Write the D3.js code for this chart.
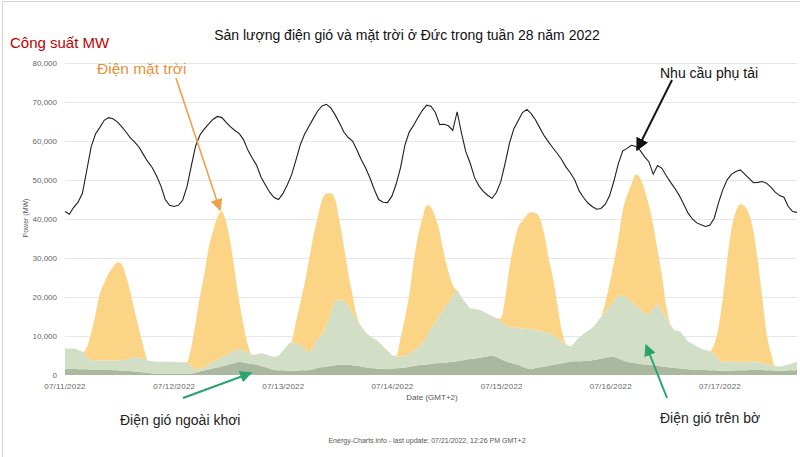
<!DOCTYPE html>
<html><head><meta charset="utf-8">
<script src="https://cdn.jsdelivr.net/npm/d3@7"></script>
<style>
body{margin:0;background:#fff;}
svg{display:block;font-family:"Liberation Sans",Arial,sans-serif;}
</style>
</head><body>
<svg id="chart" width="800" height="457"></svg>
<script>
// ---------- DATA (values in thousand MW, hourly from 07/11/2022 00:00) ----------
const titleText = "Sản lượng điện gió và mặt trời ở Đức trong tuần 28 năm 2022";
const yTickValues = [0, 10000, 20000, 30000, 40000, 50000, 60000, 70000, 80000];
const xTickLabels = ["07/11/2022","07/12/2022","07/13/2022","07/14/2022","07/15/2022","07/16/2022","07/17/2022"];

const loadGW = [
 41.9,41.2,43.0,44.3,46.6,52.5,58.5,61.8,63.5,65.3,66.0,65.7,64.9,63.7,62.3,60.8,59.7,58.4,56.5,54.7,53.2,51.1,48.5,45.0,
 43.5,43.2,43.5,44.8,48.3,53.7,58.8,61.6,63.1,64.4,65.6,66.3,66.0,64.8,63.6,62.7,61.9,60.3,57.6,55.6,53.7,50.7,48.7,46.8,
 45.5,45.0,46.5,48.7,51.3,55.1,59.0,61.8,63.8,65.8,67.7,69.0,69.4,68.5,66.7,64.6,62.3,60.9,60.0,57.7,55.2,53.1,50.5,47.5,
 45.0,44.3,44.2,45.8,48.9,53.1,58.9,62.3,64.0,66.0,67.8,69.2,68.9,67.3,64.2,64.3,63.9,62.7,67.5,62.0,57.2,54.3,50.6,48.5,
 47.1,46.1,45.3,46.8,49.5,54.2,59.4,63.1,65.2,67.3,68.1,67.0,65.4,63.3,61.3,59.7,58.2,56.8,55.2,53.3,51.8,50.0,47.2,45.5,
 44.1,43.2,42.5,42.7,43.8,46.0,49.8,54.2,57.4,58.1,58.9,58.6,57.6,56.0,54.7,51.5,53.7,53.0,51.1,49.4,47.8,46.0,43.8,41.5,
 40.0,39.0,38.5,38.1,38.4,40.2,44.2,47.6,50.1,51.5,52.2,52.6,51.5,50.4,49.3,49.4,49.6,49.2,48.2,46.9,46.0,45.6,43.2,41.9,41.7
];
const windOffshoreGW = [
 1.6,1.6,1.6,1.5,1.5,1.5,1.4,1.4,1.35,1.3,1.3,1.25,1.2,1.1,1.0,0.95,0.9,0.8,0.7,0.55,0.4,0.25,0.25,0.25,
 0.25,0.25,0.25,0.25,0.25,0.35,0.6,0.9,1.2,1.4,1.7,1.9,2.2,2.5,2.8,3.1,3.4,3.2,3.0,2.8,2.6,2.3,2.0,1.6,
 1.3,1.2,1.2,1.1,1.1,1.1,1.2,1.2,1.3,1.5,1.8,2.0,2.2,2.3,2.5,2.7,2.6,2.6,2.5,2.4,2.2,2.0,1.8,1.7,
 1.6,1.6,1.5,1.6,1.7,1.8,1.9,2.1,2.3,2.5,2.6,2.7,2.9,3.0,3.1,3.2,3.3,3.4,3.5,3.7,3.9,4.1,4.2,4.4,
 4.6,4.8,5.0,4.6,4.1,3.6,3.2,2.9,2.6,2.1,1.7,1.5,1.8,2.0,2.2,2.4,2.6,2.8,3.0,3.2,3.4,3.5,3.5,3.6,
 3.7,3.8,4.0,4.2,4.4,4.6,4.6,4.2,3.8,3.4,3.2,3.0,2.8,2.7,2.6,2.5,2.3,2.2,2.1,1.9,1.8,1.7,1.6,1.5,
 1.4,1.4,1.3,1.3,1.2,1.2,1.1,1.1,1.1,1.1,1.2,1.2,1.2,1.3,1.3,1.3,1.3,1.2,1.2,1.1,1.1,1.1,1.2,1.2,1.3
];
const windOnshoreGW = [
 5.2,5.2,5.2,4.9,4.4,3.5,2.4,2.4,2.35,2.4,2.4,2.45,2.6,2.7,3.0,3.35,3.7,3.7,3.4,3.15,3.1,3.15,3.15,3.15,
 3.15,3.15,3.05,3.05,2.95,1.85,0.8,0.7,0.8,1.2,1.7,2.1,2.3,2.6,2.9,3.3,3.1,3.0,2.8,2.4,2.7,3.3,3.3,3.3,
 3.4,3.8,5.0,6.4,7.3,7.1,6.5,5.7,4.4,5.8,7.4,8.5,10.6,13.5,16.5,16.7,16.2,15.2,13.4,11.6,10.3,9.0,8.2,7.6,
 6.9,5.7,4.8,3.6,3.1,2.9,3.1,3.5,4.0,4.5,5.6,7.3,8.9,10.6,12.3,13.9,15.3,16.9,18.1,16.2,14.6,13.0,12.7,12.3,
 11.7,10.9,10.1,10.0,9.9,9.2,9.1,9.3,9.5,9.8,10.1,10.2,9.7,9.3,8.8,8.3,7.7,6.7,5.5,4.6,4.0,4.9,6.1,6.9,
 7.6,8.3,9.4,10.6,11.8,12.9,14.3,16.1,16.7,16.3,15.6,14.9,14.3,13.0,13.1,14.6,15.8,14.3,12.5,10.9,9.6,9.5,8.4,7.1,
 6.6,5.9,5.5,5.1,4.9,4.3,2.9,2.3,2.3,2.3,2.2,2.2,2.2,2.1,2.1,2.0,1.8,1.6,1.4,1.1,1.1,1.3,1.5,1.8,2.1
];
const solarGW = [
 0,0,0,0,0,2.1,7.0,11.8,17.2,19.9,22.3,23.9,25.1,24.6,21.4,17.0,11.8,7.1,3.2,0,0,0,0,0,
 0,0,0,0,0.2,5.1,12.1,18.7,24.0,30.2,33.6,36.6,37.5,34.1,28.0,19.9,12.3,6.4,1.7,0,0,0,0,0,
 0,0,0,0,0.2,5.3,10.8,16.6,23.9,28.2,31.2,34.5,33.7,30.8,26.0,20.1,14.2,8.2,4.6,1.0,0,0,0,0,
 0,0,0,0,0.1,4.8,9.5,14.9,22.7,28.5,31.8,33.5,31.2,26.9,21.1,13.9,7.9,2.7,0,0,0,0,0,0,
 0,0,0,0,0.5,6.7,15.2,21.3,25.7,27.7,29.2,30.0,30.0,28.9,25.0,19.3,14.5,8.5,3.0,0.2,0,0,0,0,
 0,0,0,0,2.3,6.0,10.1,14.7,21.7,26.3,30.2,33.6,33.4,31.8,27.8,21.4,13.9,9.0,2.9,0,0,0,0,0,
 0,0,0,0,0,2.4,8.3,16.6,26.4,34.3,38.6,40.4,39.8,37.9,33.5,25.9,17.0,8.0,3.2,0.1,0,0,0,0,0
];

// ---------- SETUP ----------
const W = 800, H = 457;
const M = {left: 65, right: 797, top: 63, bottom: 375};
const svg = d3.select("#chart");

const t0 = new Date(2022, 6, 11, 0, 0);
const t1 = new Date(2022, 6, 18, 0, 0);
const times = loadGW.map((_, i) => d3.timeHour.offset(t0, i));

const rows = times.map((t, i) => ({
  time: t,
  offshore: windOffshoreGW[i] * 1000,
  onshore: windOnshoreGW[i] * 1000,
  solar: solarGW[i] * 1000,
  load: loadGW[i] * 1000
}));

const x = d3.scaleTime().domain([t0, t1]).range([M.left, M.right]);
const y = d3.scaleLinear().domain([0, 80000]).range([M.bottom, M.top]);
const xLab = d3.scalePoint().domain(xTickLabels).range([65, 720]);

// frame
svg.append("rect").attr("x", 2.5).attr("y", 1.5).attr("width", 830).attr("height", 480)
  .attr("fill", "none").attr("stroke", "#d4d4d4");

// grid
svg.append("g").selectAll("line").data(yTickValues.filter(d => d > 0)).join("line")
  .attr("x1", M.left).attr("x2", M.right)
  .attr("y1", d => y(d) + 0.5).attr("y2", d => y(d) + 0.5)
  .attr("stroke", "#e6e6e6").attr("stroke-width", 1);

// stacked areas
const stack = d3.stack().keys(["offshore", "onshore", "solar"]);
const series = stack(rows);
const colors = {offshore: "#a9b89e", onshore: "#d2dfc6", solar: "#fcd486"};
const area = d3.area()
  .x(d => x(d.data.time))
  .y0(d => y(d[0]))
  .y1(d => y(d[1]))
  .curve(d3.curveMonotoneX);
svg.append("g").selectAll("path").data(series).join("path")
  .attr("d", area)
  .attr("fill", d => colors[d.key]);

// load line
const line = d3.line().x(d => x(d.time)).y(d => y(d.load)).curve(d3.curveLinear);
svg.append("path").datum(rows).attr("d", line)
  .attr("fill", "none").attr("stroke", "#1e1e1e").attr("stroke-width", 1.1);

// y axis labels
const yFmt = d3.format(",");
svg.append("g").selectAll("text").data(yTickValues).join("text")
  .attr("x", 57).attr("y", d => y(d)).attr("dy", "0.33em")
  .attr("text-anchor", "end").attr("font-size", 8).attr("fill", "#666")
  .text(d => yFmt(d));

svg.append("text").attr("transform", "translate(28,218) rotate(-90)")
  .attr("text-anchor", "middle").attr("font-size", 7).attr("fill", "#555")
  .text("Power (MW)");

// x axis labels
svg.append("g").selectAll("text").data(xTickLabels).join("text")
  .attr("x", d => xLab(d)).attr("y", 388.5)
  .attr("text-anchor", "middle").attr("font-size", 8).attr("fill", "#666")
  .attr("letter-spacing", 0.2)
  .text(d => d);

svg.append("text").attr("x", 432).attr("y", 400).attr("text-anchor", "middle")
  .attr("font-size", 8).attr("fill", "#555").text("Date (GMT+2)");

svg.append("text").attr("x", 427).attr("y", 443).attr("text-anchor", "middle")
  .attr("font-size", 7).attr("fill", "#555")
  .text("Energy-Charts.info - last update: 07/21/2022, 12:26 PM GMT+2");

// titles
svg.append("text").attr("x", 407).attr("y", 40).attr("text-anchor", "middle")
  .attr("font-size", 14).attr("fill", "#111").text(titleText);
svg.append("text").attr("x", 10).attr("y", 48)
  .attr("font-size", 15).attr("fill", "#c00000").text("Công suất MW");

// arrow markers
const defs = svg.append("defs");
function marker(id, color, size) {
  defs.append("marker").attr("id", id).attr("viewBox", "0 0 10 10")
    .attr("refX", 9).attr("refY", 5).attr("markerUnits", "userSpaceOnUse")
    .attr("markerWidth", size).attr("markerHeight", size).attr("orient", "auto")
    .append("path").attr("d", "M0,0 L10,5 L0,10 Z").attr("fill", color);
}
marker("mOrange", "#f0a04b", 12);
marker("mBlack", "#111", 13);
marker("mGreen", "#2ba36d", 12);

// annotations
const annotations = [
  {text: "Điện mặt trời", tx: 97, ty: 74, fs: 15.5, color: "#e8923a", x1: 176, y1: 78, x2: 220, y2: 210, stroke: "#f0a04b", sw: 1.6, m: "mOrange"},
  {text: "Nhu cầu phụ tải", tx: 660, ty: 78, fs: 14, color: "#111", x1: 672, y1: 80, x2: 637, y2: 150, stroke: "#111", sw: 2, m: "mBlack"},
  {text: "Điện gió ngoài khơi", tx: 120, ty: 425, fs: 14, color: "#222", x1: 183, y1: 398, x2: 251, y2: 373, stroke: "#2ba36d", sw: 2, m: "mGreen"},
  {text: "Điện gió trên bờ", tx: 660, ty: 423, fs: 14, color: "#222", x1: 667, y1: 398, x2: 646, y2: 345, stroke: "#2ba36d", sw: 2, m: "mGreen"}
];
const ag = svg.append("g");
annotations.forEach(a => {
  ag.append("line").attr("x1", a.x1).attr("y1", a.y1).attr("x2", a.x2).attr("y2", a.y2)
    .attr("stroke", a.stroke).attr("stroke-width", a.sw).attr("marker-end", `url(#${a.m})`);
  ag.append("text").attr("x", a.tx).attr("y", a.ty).attr("font-size", a.fs)
    .attr("fill", a.color).text(a.text);
});
</script>
</body></html>
